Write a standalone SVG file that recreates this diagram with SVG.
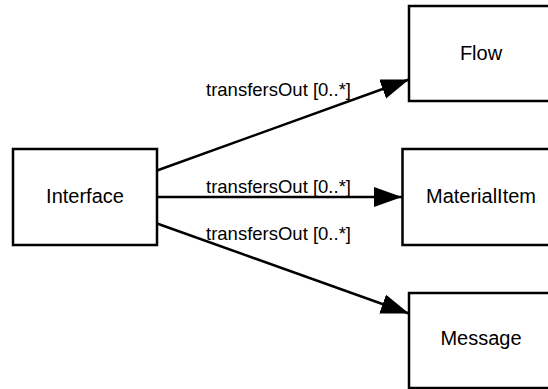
<svg xmlns="http://www.w3.org/2000/svg" width="548" height="389" viewBox="0 0 548 389">
<style>
.box{fill:#fff;stroke:#000;stroke-width:2.5}
.lbl{font-family:"Liberation Sans",Arial,sans-serif;font-size:20px;fill:#000;text-anchor:middle}
.elbl{font-family:"Liberation Sans",Arial,sans-serif;font-size:18.5px;fill:#000}
.edge{stroke:#000;stroke-width:2.5;fill:none}
</style>
<defs>
<marker id="arr" markerUnits="userSpaceOnUse" markerWidth="30" markerHeight="22" refX="28" refY="10" orient="auto">
<path d="M0,0 L28,10 L0,20 Z" fill="#000"/>
</marker>
</defs>
<rect width="548" height="389" fill="#fff"/>
<g id="Interface"><rect class="box" x="13" y="149" width="144" height="96"/><text class="lbl" x="85" y="203">Interface</text></g>
<g id="Flow"><rect class="box" x="409" y="6" width="144" height="95"/><text class="lbl" x="481" y="60">Flow</text></g>
<g id="MaterialItem"><rect class="box" x="402.5" y="149" width="150" height="96"/><text class="lbl" x="481" y="203">MaterialItem</text></g>
<g id="Message"><rect class="box" x="409" y="293" width="144" height="95"/><text class="lbl" x="481" y="345">Message</text></g>
<g id="connectors">
<line class="edge" x1="157" y1="170.5" x2="409" y2="79.5" marker-end="url(#arr)"/>
<line class="edge" x1="157" y1="197" x2="402" y2="197" marker-end="url(#arr)"/>
<line class="edge" x1="157" y1="223.5" x2="409" y2="313.5" marker-end="url(#arr)"/>
<text class="elbl" x="206" y="96">transfersOut [0..*]</text>
<text class="elbl" x="206" y="192.5">transfersOut [0..*]</text>
<text class="elbl" x="206" y="240">transfersOut [0..*]</text>
</g>
</svg>
